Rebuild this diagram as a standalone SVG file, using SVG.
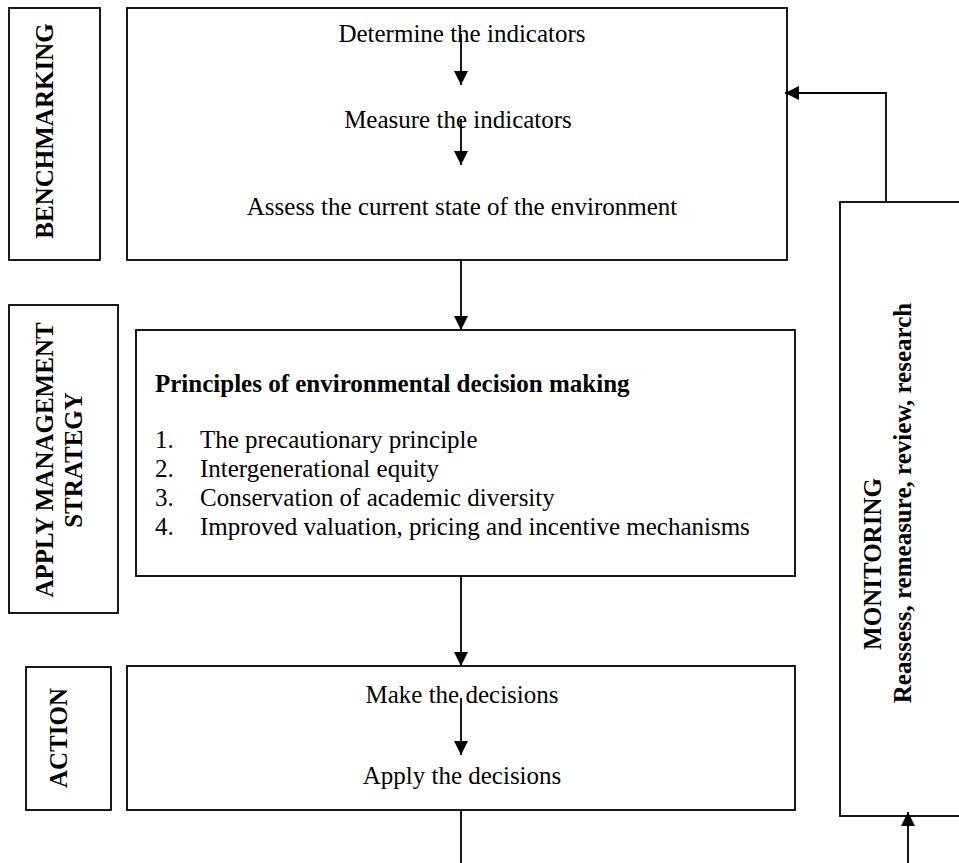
<svg xmlns="http://www.w3.org/2000/svg" width="959" height="863" viewBox="0 0 959 863">
<style>
.box{fill:#fff;stroke:#000;stroke-width:1.8}
.t{font-family:"Liberation Serif","Times New Roman",serif;font-size:25px;fill:#000}
.b{font-weight:bold}
.lbl{font-family:"Liberation Serif","Times New Roman",serif;font-size:25px;font-weight:bold;fill:#000;text-anchor:middle}
.c{text-anchor:middle}
.ln{stroke:#000;stroke-width:1.8;fill:none}
</style>
<defs>
<marker id="ah" viewBox="0 0 14 14" refX="14" refY="7" markerWidth="14" markerHeight="14" orient="auto" markerUnits="userSpaceOnUse">
<path d="M0,0 L14,7 L0,14 z" fill="#000"/>
</marker>
</defs>
<rect width="959" height="863" fill="#fff"/>

<g id="benchmarking-label">
<rect class="box" x="9" y="8" width="91" height="252"/>
<text class="lbl" transform="translate(53,131) rotate(-90)">BENCHMARKING</text>
</g>

<g id="benchmarking">
<rect class="box" x="127" y="8" width="660" height="252"/>
<text class="t c" x="462" y="42">Determine the indicators</text>
<text class="t c" x="458" y="128">Measure the indicators</text>
<text class="t c" x="462" y="215">Assess the current state of the environment</text>
</g>

<g id="strategy-label">
<rect class="box" x="9" y="305" width="109" height="308"/>
<text class="lbl" transform="translate(53,460) rotate(-90)">APPLY MANAGEMENT</text>
<text class="lbl" transform="translate(82,460) rotate(-90)">STRATEGY</text>
</g>

<g id="strategy">
<rect class="box" x="136" y="330" width="659" height="246"/>
<text class="t b" x="155" y="392">Principles of environmental decision making</text>
<text class="t" x="155" y="448">1.</text>
<text class="t" x="200" y="448">The precautionary principle</text>
<text class="t" x="155" y="477">2.</text>
<text class="t" x="200" y="477">Intergenerational equity</text>
<text class="t" x="155" y="506">3.</text>
<text class="t" x="200" y="506">Conservation of academic diversity</text>
<text class="t" x="155" y="535">4.</text>
<text class="t" x="200" y="535">Improved valuation, pricing and incentive mechanisms</text>
</g>

<g id="action-label">
<rect class="box" x="26" y="667" width="85" height="143"/>
<text class="lbl" transform="translate(67,738) rotate(-90)">ACTION</text>
</g>

<g id="action">
<rect class="box" x="127" y="666" width="668" height="144"/>
<text class="t c" x="462" y="703">Make the decisions</text>
<text class="t c" x="462" y="784">Apply the decisions</text>
</g>

<g id="monitoring">
<rect class="box" x="840" y="202" width="130" height="614"/>
<text class="lbl" transform="translate(881,564) rotate(-90)">MONITORING</text>
<text class="lbl" transform="translate(911,503) rotate(-90)">Reassess, remeasure, review, research</text>
</g>

<g id="connectors">
<line class="ln" x1="461" y1="34" x2="461" y2="85" marker-end="url(#ah)"/>
<line class="ln" x1="461" y1="119" x2="461" y2="165" marker-end="url(#ah)"/>
<line class="ln" x1="461" y1="260" x2="461" y2="330" marker-end="url(#ah)"/>
<line class="ln" x1="461" y1="576" x2="461" y2="666" marker-end="url(#ah)"/>
<line class="ln" x1="461" y1="698" x2="461" y2="755" marker-end="url(#ah)"/>
<line class="ln" x1="461" y1="810" x2="461" y2="863"/>
<line class="ln" x1="908" y1="863" x2="908" y2="812" marker-end="url(#ah)"/>
<polyline class="ln" points="886,202 886,93 785,93" marker-end="url(#ah)"/>
</g>
</svg>
